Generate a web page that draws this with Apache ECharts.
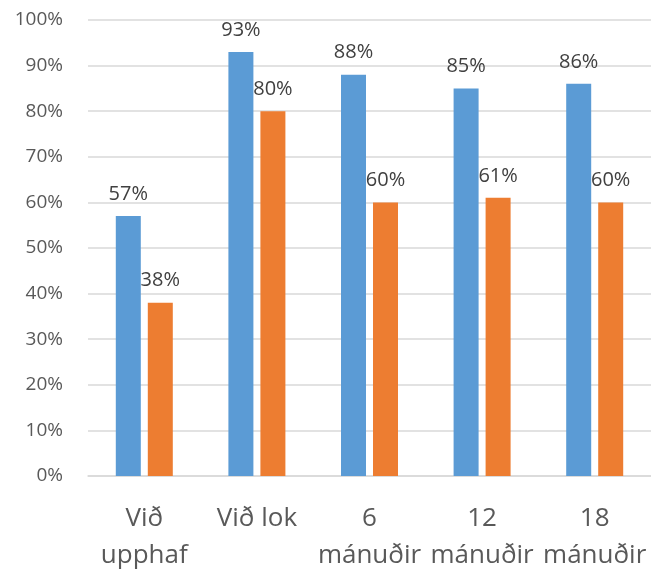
<!DOCTYPE html>
<html>
<head>
<meta charset="utf-8">
<script src="https://cdn.jsdelivr.net/npm/echarts@6/dist/echarts.min.js"></script>
<style>html,body{margin:0;padding:0;background:#fff;}#c{width:651px;height:574px;}</style>
</head>
<body>
<div id="c"></div>
<script>
var categories = ['Við\nupphaf', 'Við lok', '6\nmánuðir', '12\nmánuðir', '18\nmánuðir'];
var seriesA = [57, 93, 88, 85, 86];
var seriesB = [38, 80, 60, 61, 60];
var yTicks = [0, 10, 20, 30, 40, 50, 60, 70, 80, 90, 100];

var chart = echarts.init(document.getElementById('c'));
var font = '"Open Sans", sans-serif';
var labelCfg = {
  show: true, position: 'top', distance: 12,
  formatter: function (p) { return p.value + '%'; },
  color: '#404040', fontSize: 20, fontFamily: font
};
chart.setOption({
  animation: false,
  grid: { left: 88, right: 0, top: 20, bottom: 96 },
  xAxis: {
    type: 'category', data: categories,
    axisLine: { lineStyle: { color: '#d9d9d9', width: 1.5 } },
    axisTick: { show: false },
    axisLabel: { color: '#595959', fontSize: 26, fontFamily: font, lineHeight: 37, margin: 24, interval: 0 }
  },
  yAxis: {
    type: 'value', min: 0, max: 100, interval: 10,
    axisLine: { show: false }, axisTick: { show: false },
    splitLine: { lineStyle: { color: '#d9d9d9', width: 1.5 } },
    axisLabel: {
      color: '#595959', fontSize: 19, fontFamily: font, margin: 25,
      formatter: function (v) { return yTicks.indexOf(v) >= 0 ? v + '%' : ''; }
    }
  },
  series: [
    { type: 'bar', data: seriesA, barWidth: 25, barGap: '28%', itemStyle: { color: '#5B9BD5' }, label: labelCfg },
    { type: 'bar', data: seriesB, barWidth: 25, itemStyle: { color: '#ED7D31' }, label: labelCfg }
  ]
});
</script>
</body>
</html>
